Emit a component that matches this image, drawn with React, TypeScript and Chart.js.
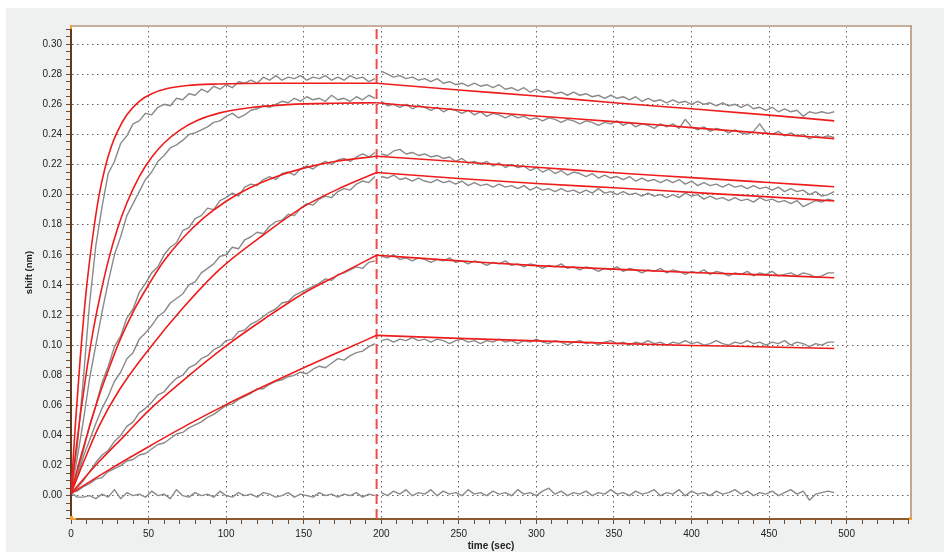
import React, { useEffect, useRef } from 'react';
import { Chart, registerables } from 'chart.js';

Chart.register(...registerables);

// ---- axes ----
const X_MAX = 541.5;
const Y_MIN = -0.0155;
const Y_MAX = 0.312;
const X_LABEL_TICKS = [0, 50, 100, 150, 200, 250, 300, 350, 400, 450, 500];
const X_MINOR_TICKS = [0, 10, 20, 30, 40, 50, 60, 70, 80, 90, 100, 110, 120, 130, 140, 150, 160, 170, 180, 190, 200, 210, 220, 230, 240, 250, 260, 270, 280, 290, 300, 310, 320, 330, 340, 350, 360, 370, 380, 390, 400, 410, 420, 430, 440, 450, 460, 470, 480, 490, 500, 510, 520, 530, 540];
const Y_LABEL_TICKS = [0, 0.02, 0.04, 0.06, 0.08, 0.1, 0.12, 0.14, 0.16, 0.18, 0.2, 0.22, 0.24, 0.26, 0.28, 0.3];
const Y_MINOR_STEP = 0.005;
const X_TITLE = 'time (sec)';
const Y_TITLE = 'shift (nm)';

// association / dissociation switch time
const STEP_TIME = 197;

// ---- measured data (sampled every 4 s) ----
const SAMPLE_STEP = 4;
const ASSOC_START = 0;
const DISSOC_START = 200;

const G1_ASSOC = [
  0.002, 0.032, 0.078, 0.128, 0.166, 0.192, 0.214, 0.222, 0.234, 0.239,
  0.247, 0.249, 0.254, 0.253, 0.258, 0.260, 0.259, 0.264, 0.263, 0.267,
  0.266, 0.270, 0.268, 0.272, 0.270, 0.273, 0.271, 0.275, 0.274, 0.276,
  0.274, 0.278, 0.276, 0.279, 0.276, 0.278, 0.277, 0.279, 0.276, 0.278,
  0.277, 0.279, 0.276, 0.278, 0.276, 0.279, 0.277, 0.278, 0.275, 0.277,
];
const G1_DISSOC = [
  0.282, 0.280, 0.278, 0.279, 0.277, 0.278, 0.276, 0.277, 0.275, 0.277,
  0.274, 0.275, 0.273, 0.274, 0.272, 0.274, 0.272, 0.273, 0.271, 0.273,
  0.270, 0.271, 0.269, 0.271, 0.268, 0.270, 0.268, 0.269, 0.267, 0.268,
  0.266, 0.268, 0.266, 0.267, 0.265, 0.266, 0.264, 0.266, 0.264, 0.265,
  0.263, 0.265, 0.262, 0.264, 0.262, 0.263, 0.261, 0.263, 0.261, 0.262,
  0.260, 0.262, 0.260, 0.261, 0.259, 0.261, 0.259, 0.260, 0.258, 0.260,
  0.257, 0.258, 0.256, 0.258, 0.255, 0.257, 0.255, 0.256, 0.252, 0.255,
  0.254, 0.255, 0.254, 0.255,
];
const G2_ASSOC = [
  0.002, 0.025, 0.050, 0.078, 0.100, 0.122, 0.142, 0.160, 0.172, 0.186,
  0.194, 0.202, 0.210, 0.215, 0.222, 0.226, 0.231, 0.233, 0.236, 0.240,
  0.241, 0.243, 0.245, 0.248, 0.249, 0.252, 0.254, 0.251, 0.253, 0.256,
  0.257, 0.259, 0.258, 0.260, 0.262, 0.261, 0.264, 0.262, 0.265, 0.263,
  0.264, 0.262, 0.266, 0.263, 0.264, 0.262, 0.265, 0.263, 0.266, 0.264,
];
const G2_DISSOC = [
  0.262, 0.259, 0.260, 0.258, 0.260, 0.257, 0.259, 0.258, 0.256, 0.258,
  0.255, 0.257, 0.256, 0.254, 0.256, 0.253, 0.255, 0.252, 0.254, 0.253,
  0.251, 0.253, 0.251, 0.252, 0.250, 0.251, 0.249, 0.251, 0.250, 0.248,
  0.250, 0.249, 0.247, 0.249, 0.248, 0.246, 0.248, 0.247, 0.249, 0.246,
  0.248, 0.245, 0.247, 0.246, 0.244, 0.247, 0.245, 0.247, 0.244, 0.250,
  0.245, 0.243, 0.245, 0.242, 0.244, 0.243, 0.241, 0.243, 0.241, 0.240,
  0.242, 0.247, 0.241, 0.240, 0.242, 0.239, 0.241, 0.239, 0.240, 0.237,
  0.239, 0.238, 0.239, 0.238,
];
const G3_ASSOC = [
  0.002, 0.014, 0.030, 0.047, 0.060, 0.075, 0.086, 0.099, 0.106, 0.118,
  0.124, 0.135, 0.141, 0.148, 0.152, 0.160, 0.165, 0.168, 0.176, 0.178,
  0.184, 0.186, 0.191, 0.190, 0.196, 0.198, 0.201, 0.199, 0.205, 0.207,
  0.206, 0.210, 0.212, 0.210, 0.214, 0.215, 0.213, 0.217, 0.219, 0.217,
  0.220, 0.222, 0.220, 0.223, 0.224, 0.222, 0.225, 0.227, 0.225, 0.228,
];
const G3_DISSOC = [
  0.227, 0.226, 0.229, 0.230, 0.227, 0.228, 0.226, 0.227, 0.225, 0.226,
  0.224, 0.225, 0.222, 0.224, 0.221, 0.222, 0.220, 0.222, 0.219, 0.221,
  0.218, 0.220, 0.218, 0.219, 0.216, 0.218, 0.215, 0.217, 0.214, 0.216,
  0.213, 0.215, 0.214, 0.212, 0.214, 0.211, 0.213, 0.211, 0.212, 0.210,
  0.212, 0.209, 0.211, 0.209, 0.210, 0.208, 0.210, 0.208, 0.210, 0.207,
  0.209, 0.206, 0.208, 0.206, 0.207, 0.205, 0.207, 0.205, 0.206, 0.204,
  0.206, 0.204, 0.205, 0.203, 0.205, 0.202, 0.204, 0.202, 0.203, 0.200,
  0.202, 0.199, 0.200, 0.202,
];
const G4_ASSOC = [
  0.002, 0.012, 0.026, 0.037, 0.048, 0.058, 0.066, 0.076, 0.082, 0.091,
  0.095, 0.104, 0.108, 0.113, 0.119, 0.122, 0.128, 0.131, 0.134, 0.140,
  0.142, 0.148, 0.151, 0.154, 0.159, 0.160, 0.165, 0.164, 0.170, 0.172,
  0.175, 0.174, 0.179, 0.182, 0.183, 0.187, 0.186, 0.191, 0.194, 0.193,
  0.197, 0.199, 0.198, 0.202, 0.204, 0.203, 0.207, 0.209, 0.208, 0.212,
];
const G4_DISSOC = [
  0.212, 0.211, 0.213, 0.210, 0.211, 0.209, 0.211, 0.209, 0.208, 0.210,
  0.208, 0.209, 0.207, 0.209, 0.206, 0.208, 0.206, 0.207, 0.205, 0.207,
  0.205, 0.206, 0.204, 0.206, 0.203, 0.205, 0.203, 0.204, 0.202, 0.204,
  0.202, 0.203, 0.201, 0.203, 0.201, 0.204, 0.201, 0.202, 0.200, 0.202,
  0.200, 0.201, 0.199, 0.201, 0.199, 0.200, 0.198, 0.200, 0.198, 0.201,
  0.199, 0.200, 0.197, 0.199, 0.197, 0.198, 0.196, 0.198, 0.196, 0.197,
  0.195, 0.198, 0.196, 0.197, 0.195, 0.196, 0.194, 0.196, 0.192, 0.194,
  0.196, 0.195, 0.197, 0.196,
];
const G5_ASSOC = [
  0.002, 0.005, 0.010, 0.016, 0.022, 0.027, 0.030, 0.036, 0.040, 0.046,
  0.049, 0.055, 0.058, 0.062, 0.067, 0.069, 0.074, 0.078, 0.080, 0.085,
  0.087, 0.091, 0.093, 0.097, 0.099, 0.103, 0.104, 0.109, 0.110, 0.114,
  0.116, 0.119, 0.122, 0.124, 0.128, 0.129, 0.133, 0.135, 0.137, 0.139,
  0.141, 0.144, 0.143, 0.147, 0.148, 0.150, 0.152, 0.151, 0.155, 0.156,
];
const G5_DISSOC = [
  0.159, 0.158, 0.160, 0.157, 0.158, 0.156, 0.158, 0.157, 0.155, 0.157,
  0.156, 0.158, 0.155, 0.156, 0.154, 0.156, 0.155, 0.153, 0.155, 0.154,
  0.156, 0.153, 0.154, 0.152, 0.154, 0.153, 0.151, 0.153, 0.152, 0.154,
  0.151, 0.152, 0.150, 0.152, 0.151, 0.149, 0.151, 0.150, 0.152, 0.149,
  0.151, 0.150, 0.148, 0.150, 0.149, 0.151, 0.148, 0.150, 0.149, 0.147,
  0.149, 0.148, 0.150, 0.147, 0.149, 0.148, 0.146, 0.148, 0.147, 0.149,
  0.146, 0.148, 0.147, 0.149, 0.146, 0.147, 0.148, 0.146, 0.148, 0.147,
  0.145, 0.146, 0.148, 0.148,
];
const G6_ASSOC = [
  0.002, 0.003, 0.006, 0.008, 0.011, 0.012, 0.016, 0.018, 0.020, 0.023,
  0.024, 0.027, 0.028, 0.031, 0.034, 0.035, 0.038, 0.041, 0.042, 0.045,
  0.047, 0.049, 0.052, 0.054, 0.057, 0.060, 0.061, 0.064, 0.066, 0.068,
  0.071, 0.071, 0.074, 0.076, 0.077, 0.079, 0.080, 0.082, 0.081, 0.084,
  0.086, 0.085, 0.088, 0.091, 0.090, 0.093, 0.095, 0.096, 0.099, 0.101,
];
const G6_DISSOC = [
  0.103, 0.104, 0.102, 0.104, 0.103, 0.105, 0.103, 0.104, 0.102, 0.104,
  0.103, 0.101, 0.103, 0.104, 0.102, 0.103, 0.101, 0.103, 0.102, 0.104,
  0.102, 0.103, 0.101, 0.103, 0.102, 0.104, 0.102, 0.101, 0.103, 0.102,
  0.100, 0.102, 0.103, 0.101, 0.102, 0.100, 0.102, 0.103, 0.101, 0.102,
  0.100, 0.102, 0.101, 0.103, 0.101, 0.102, 0.100, 0.102, 0.101, 0.103,
  0.101, 0.102, 0.100, 0.101, 0.103, 0.101, 0.100, 0.102, 0.101, 0.103,
  0.101, 0.102, 0.100, 0.102, 0.101, 0.103, 0.100, 0.102, 0.101, 0.099,
  0.101, 0.100, 0.102, 0.102,
];
const G7_ASSOC = [
  0.002, -0.001, -0.001, 0.000, -0.002, 0.001, -0.001, 0.004, -0.002, 0.002,
  0.000, 0.001, -0.001, 0.003, 0.000, 0.001, -0.002, 0.004, 0.000, -0.001,
  0.002, 0.000, 0.001, -0.001, 0.003, 0.000, -0.001, 0.002, 0.000, 0.001,
  -0.001, 0.002, 0.001, -0.001, 0.000, 0.002, -0.001, 0.001, 0.000, -0.001,
  0.002, 0.000, 0.001, -0.001, 0.001, 0.000, 0.002, -0.001, 0.001, 0.000,
];
const G7_DISSOC = [
  0.002, 0.000, 0.003, 0.001, 0.004, 0.000, 0.002, 0.001, 0.004, 0.000,
  0.003, 0.001, 0.002, 0.000, 0.004, 0.001, 0.002, 0.000, 0.003, 0.001,
  0.002, 0.000, 0.004, 0.001, 0.002, 0.000, 0.003, 0.005, 0.001, 0.003,
  0.000, 0.002, 0.001, 0.003, 0.000, 0.002, 0.001, 0.004, 0.001, 0.002,
  0.000, 0.003, 0.001, 0.002, 0.004, 0.000, 0.002, 0.001, 0.004, 0.000,
  0.003, 0.001, 0.002, 0.000, 0.003, 0.001, 0.002, 0.004, 0.001, 0.003,
  0.000, 0.002, 0.001, 0.003, 0.000, 0.002, 0.004, 0.001, 0.003, -0.003,
  0.001, 0.002, 0.003, 0.002,
];

// ---- fitted curves: [time, shift] ----
const FIT1_ASSOC = [[0, 0.0015], [3, 0.05], [6, 0.092], [10, 0.138], [14, 0.172], [18, 0.199], [22, 0.218], [26, 0.232], [30, 0.242], [36, 0.253], [44, 0.262], [52, 0.267], [62, 0.2705], [75, 0.2725], [95, 0.2735], [130, 0.274], [197, 0.274]];
const FIT2_ASSOC = [[0, 0.0015], [3, 0.029], [6, 0.0535], [10, 0.0825], [14, 0.108], [18, 0.129], [24, 0.156], [30, 0.1775], [36, 0.1944], [44, 0.212], [52, 0.2248], [60, 0.2343], [70, 0.2427], [82, 0.2495], [96, 0.2543], [115, 0.2577], [140, 0.2598], [170, 0.2607], [197, 0.261]];
const FIT3_ASSOC = [[0, 0.0015], [5, 0.021], [10, 0.039], [18, 0.066], [25, 0.086], [31, 0.102], [40, 0.122], [50, 0.140], [60, 0.156], [72, 0.171], [85, 0.184], [100, 0.1956], [115, 0.2044], [130, 0.2111], [150, 0.2176], [170, 0.222], [197, 0.2255]];
const FIT4_ASSOC = [[0, 0.0015], [8, 0.022], [18, 0.046], [31, 0.070], [50, 0.097], [72, 0.1245], [96, 0.1505], [125, 0.174], [150, 0.192], [175, 0.205], [197, 0.2147]];
const FIT5_ASSOC = [[0, 0.0015], [18, 0.0225], [35, 0.0404], [50, 0.0565], [75, 0.0789], [100, 0.0995], [125, 0.1177], [150, 0.1345], [175, 0.148], [197, 0.1597]];
const FIT6_ASSOC = [[0, 0.0015], [25, 0.0175], [50, 0.0325], [75, 0.047], [100, 0.0605], [125, 0.073], [150, 0.085], [175, 0.0965], [197, 0.1065]];

const FIT_DISSOC_T = [197, 250, 300, 350, 400, 450, 492];
const FIT1_DISSOC = [0.274, 0.2695, 0.2655, 0.261, 0.257, 0.2528, 0.249];
const FIT2_DISSOC = [0.261, 0.2562, 0.2522, 0.2485, 0.2445, 0.2405, 0.2372];
const FIT3_DISSOC = [0.2255, 0.2218, 0.2182, 0.2145, 0.2113, 0.208, 0.2052];
const FIT4_DISSOC = [0.2147, 0.2107, 0.2074, 0.2045, 0.2015, 0.1985, 0.1957];
const FIT5_DISSOC = [0.1597, 0.156, 0.1528, 0.1505, 0.1483, 0.1465, 0.1448];
const FIT6_DISSOC = [0.1065, 0.1045, 0.1028, 0.1012, 0.0998, 0.0988, 0.0978];

// ---- styles ----
const RED = '#ef1c1c';
const GRAY = '#8a8a8a';
const STEP_COLOR = '#f04a4a';
const GRID_COLOR = '#5e5e5e';
const TICK_COLOR = '#6b4a2e';
const FONT = "'Liberation Sans', Arial, Helvetica, sans-serif";

const sampled = (start: number, vals: number[]) => vals.map((v, i) => ({ x: start + i * SAMPLE_STEP, y: v }));
const pairs = (arr: number[][]) => arr.map(([x, y]) => ({ x, y }));
const zipT = (ts: number[], vs: number[]) => vs.map((v, i) => ({ x: ts[i], y: v }));

const isMajorY = (v: number) => Y_LABEL_TICKS.some((m) => Math.abs(m - v) < 1e-9);
const isMajorX = (v: number) => X_LABEL_TICKS.some((m) => Math.abs(m - v) < 1e-9);

const framePlugin = {
  id: 'frame',
  beforeDraw(chart: any) {
    const { ctx, chartArea: a, width, height } = chart;
    ctx.save();
    ctx.fillStyle = '#eff0f0';
    ctx.fillRect(0, 0, width, height);
    ctx.fillStyle = '#ffffff';
    ctx.fillRect(a.left, a.top, a.right - a.left, a.bottom - a.top);
    ctx.restore();
  },
  afterDraw(chart: any) {
    const { ctx, chartArea: a } = chart;
    ctx.save();
    ctx.strokeStyle = '#c6b09c';
    ctx.lineWidth = 2;
    ctx.beginPath();
    ctx.moveTo(a.left, a.top);
    ctx.lineTo(a.right + 1, a.top);
    ctx.stroke();
    ctx.strokeStyle = '#b48c6c';
    ctx.lineWidth = 1.5;
    ctx.beginPath();
    ctx.moveTo(a.right, a.top);
    ctx.lineTo(a.right, a.bottom);
    ctx.stroke();
    ctx.fillStyle = '#f0a030';
    ctx.fillRect(a.left - 1, a.bottom - 3, 3, 4);
    ctx.fillRect(a.left, a.bottom - 1, 5, 2);
    ctx.fillRect(a.left - 1, a.top - 1, 2, 4);
    ctx.fillRect(a.right - 2, a.bottom - 2, 3, 3);
    ctx.restore();
  },
};

export default function App() {
  const ref = useRef<HTMLCanvasElement | null>(null);

  useEffect(() => {
    if (!ref.current) return;
    const fit = (data: any[]) => ({
      data,
      borderColor: RED,
      borderWidth: 1.6,
      pointRadius: 0,
      fill: false,
      cubicInterpolationMode: 'monotone' as const,
    });
    const raw = (data: any[]) => ({
      data,
      borderColor: GRAY,
      borderWidth: 1.4,
      pointRadius: 0,
      fill: false,
      tension: 0,
      borderJoinStyle: 'round' as const,
    });

    const yMinor: number[] = [];
    for (let k = Math.ceil(Y_MIN / Y_MINOR_STEP); k * Y_MINOR_STEP <= Y_MAX + 1e-9; k++) {
      yMinor.push(Math.round(k * Y_MINOR_STEP * 1000) / 1000);
    }

    const datasets: any[] = [
      fit(pairs(FIT1_ASSOC)), fit(zipT(FIT_DISSOC_T, FIT1_DISSOC)),
      fit(pairs(FIT2_ASSOC)), fit(zipT(FIT_DISSOC_T, FIT2_DISSOC)),
      fit(pairs(FIT3_ASSOC)), fit(zipT(FIT_DISSOC_T, FIT3_DISSOC)),
      fit(pairs(FIT4_ASSOC)), fit(zipT(FIT_DISSOC_T, FIT4_DISSOC)),
      fit(pairs(FIT5_ASSOC)), fit(zipT(FIT_DISSOC_T, FIT5_DISSOC)),
      fit(pairs(FIT6_ASSOC)), fit(zipT(FIT_DISSOC_T, FIT6_DISSOC)),
      {
        data: [{ x: STEP_TIME, y: Y_MIN }, { x: STEP_TIME, y: Y_MAX }],
        borderColor: STEP_COLOR,
        borderWidth: 2,
        borderDash: [10, 5],
        pointRadius: 0,
        fill: false,
      },
      raw(sampled(ASSOC_START, G1_ASSOC)), raw(sampled(DISSOC_START, G1_DISSOC)),
      raw(sampled(ASSOC_START, G2_ASSOC)), raw(sampled(DISSOC_START, G2_DISSOC)),
      raw(sampled(ASSOC_START, G3_ASSOC)), raw(sampled(DISSOC_START, G3_DISSOC)),
      raw(sampled(ASSOC_START, G4_ASSOC)), raw(sampled(DISSOC_START, G4_DISSOC)),
      raw(sampled(ASSOC_START, G5_ASSOC)), raw(sampled(DISSOC_START, G5_DISSOC)),
      raw(sampled(ASSOC_START, G6_ASSOC)), raw(sampled(DISSOC_START, G6_DISSOC)),
      raw(sampled(ASSOC_START, G7_ASSOC)), raw(sampled(DISSOC_START, G7_DISSOC)),
    ];

    const chart = new Chart(ref.current, {
      type: 'line',
      data: { datasets },
      plugins: [framePlugin],
      options: {
        animation: false,
        responsive: false,
        events: [],
        layout: { padding: { left: 0, top: 18, right: 33, bottom: 0 } },
        plugins: { legend: { display: false }, tooltip: { enabled: false } },
        scales: {
          x: {
            type: 'linear',
            min: 0,
            max: X_MAX,
            afterBuildTicks: (axis: any) => {
              axis.ticks = X_MINOR_TICKS.map((v) => ({ value: v }));
            },
            afterFit: (axis: any) => {
              axis.height = 33;
            },
            ticks: {
              autoSkip: false,
              maxRotation: 0,
              padding: 4,
              color: '#222',
              font: { family: FONT, size: 10 },
              callback: (v: any) => (isMajorX(Number(v)) ? String(v) : ''),
            },
            grid: {
              color: (c: any) => (c.tick && isMajorX(c.tick.value) && c.tick.value !== 0 ? GRID_COLOR : 'transparent'),
              lineWidth: 1,
              tickLength: 5,
              tickColor: TICK_COLOR,
              tickWidth: 1,
            },
            border: { display: true, color: '#8b5a2b', width: 2, dash: [1.5, 3.5] },
            title: {
              display: true,
              text: X_TITLE,
              color: '#222',
              font: { family: FONT, size: 10, weight: 'bold' },
              padding: { top: 0, bottom: 0 },
            },
          },
          y: {
            type: 'linear',
            min: Y_MIN,
            max: Y_MAX,
            afterBuildTicks: (axis: any) => {
              axis.ticks = yMinor.map((v) => ({ value: v }));
            },
            afterFit: (axis: any) => {
              axis.width = 65;
            },
            ticks: {
              autoSkip: false,
              padding: 4,
              color: '#222',
              font: { family: FONT, size: 10 },
              callback: (v: any) => (isMajorY(Number(v)) ? Number(v).toFixed(2) : ''),
            },
            grid: {
              color: (c: any) => (c.tick && isMajorY(c.tick.value) ? GRID_COLOR : 'transparent'),
              lineWidth: 1,
              tickLength: 5,
              tickColor: TICK_COLOR,
              tickWidth: 1,
            },
            border: { display: true, color: '#5e3c20', width: 2, dash: [1.5, 3.5] },
            title: {
              display: true,
              text: Y_TITLE,
              color: '#222',
              font: { family: FONT, size: 9.5, weight: 'bold' },
              padding: { top: 18, bottom: 0 },
            },
          },
        },
      },
    } as any);
    return () => chart.destroy();
  }, []);

  return (
    <div style={{ position: 'fixed', left: 6, top: 8, width: 938, height: 544 }}>
      <canvas ref={ref} width={938} height={544} style={{ display: 'block', width: 938, height: 544 }} />
    </div>
  );
}
